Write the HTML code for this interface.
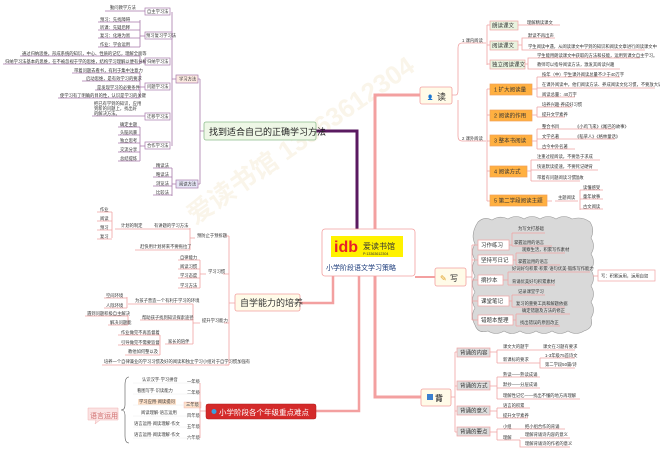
<!DOCTYPE html>
<html><head><meta charset="utf-8"><style>
html,body{margin:0;padding:0;background:#fff;width:660px;height:455px;overflow:hidden}
svg{display:block}
text{font-family:"Liberation Sans","Noto Sans CJK SC",sans-serif;fill:#333}
.s{font-size:4.3px}
.m{font-size:5.5px}
.p{stroke:#a77aab;stroke-width:0.8;fill:none}
.r{stroke:#f0a3a3;stroke-width:0.8;fill:none}
.bp{fill:#fff;stroke:#a77aab;stroke-width:0.7}
.br{fill:#fff;stroke:#f0a3a3;stroke-width:0.7}
.g{fill:#e9f3df;stroke:#f0a3a3;stroke-width:0.7}
.o{fill:#ffb040;stroke:#f3a05a;stroke-width:0.7}
.gr{fill:#ddd;stroke:#f0a3a3;stroke-width:0.7}
</style></head><body>
<svg width="660" height="455" viewBox="0 0 660 455" xmlns="http://www.w3.org/2000/svg">
<!-- watermark -->
<text x="195" y="225" font-size="26" transform="rotate(-35 195 225)" style="fill:#faf5ea;font-weight:bold">爱读书馆 13363612304</text>

<!-- thick trunks -->
<path d="M316 131 H357 V232" stroke="#5a1a60" stroke-width="3" fill="none"/>
<path d="M375 232 V95 H420" stroke="#f3a0a0" stroke-width="3" fill="none"/>
<path d="M375 255 V397 H421" stroke="#f3a0a0" stroke-width="3" fill="none"/>
<path d="M415 277 H435" stroke="#f3a0a0" stroke-width="2" fill="none"/>
<path d="M333 275 V303 H300" stroke="#f3a0a0" stroke-width="2.5" fill="none"/>
<path d="M359 275 V411 H316" stroke="#f3a0a0" stroke-width="2.5" fill="none"/>

<!-- center box -->
<rect x="322" y="229" width="93" height="47" rx="3" fill="#fff" stroke="#f3a0a0" stroke-width="0.8"/>
<rect x="331" y="236" width="72" height="21" fill="#fff200"/>
<text x="334" y="252" font-size="16" style="fill:#e8202a;font-weight:bold">idb</text>
<text x="363" y="249" font-size="8" style="fill:#333">爱读书馆</text>
<text x="363" y="255" font-size="3.6" style="fill:#333">P:13363612304</text>
<text x="326" y="270" font-size="7" style="fill:#1a3a7a">小学阶段语文学习策略</text>

<!-- ====== left top tree ====== -->
<rect x="204" y="122" width="112" height="18" rx="2" fill="#eef7e6" stroke="#8fbf8f" stroke-width="0.8"/>
<text x="209" y="135" font-size="9" style="fill:#222">找到适合自己的正确学习方法</text>
<path class="p" d="M204 131 H200 M200 79 V184 M200 79 H198 M200 184 H198"/>
<rect class="bp" x="176" y="75" width="22" height="8" style="fill:#fbe9e0"/><text class="s" x="179" y="80.5">学习方法</text>
<rect class="bp" x="176" y="180" width="22" height="8" style="fill:#e6e6f6"/><text class="s" x="179" y="185.5">阅读方法</text>
<path class="p" d="M176 79 H172 M172 12 V146"/>
<g>
<rect class="bp" x="145" y="8" width="25" height="7"/><text class="s" x="147" y="13">自主学习法</text>
<rect class="bp" x="145" y="32" width="27" height="7"/><text class="s" x="146" y="37">预习复习学习法</text>
<rect class="bp" x="145" y="58" width="25" height="7"/><text class="s" x="147" y="63">归纳学习法</text>
<rect class="bp" x="145" y="83" width="25" height="7"/><text class="s" x="147" y="88">问题学习法</text>
<rect class="bp" x="145" y="113" width="25" height="7"/><text class="s" x="147" y="118">迁移学习法</text>
<rect class="bp" x="145" y="142" width="25" height="7"/><text class="s" x="147" y="147">合作学习法</text>
</g>
<path class="p" d="M105 11 H145 M98 22 H140 M98 30 H140 M98 38 H140 M98 47 H140 M140 20 V47 M140 36 H145
M20 56 H140 M3 64 H140 M140 56 V64 M140 62 H145
M72 73 H140 M82 81 H140 M95 90 H140 M58 98 H140 M140 73 V98 M140 87 H145
M92 116 H145 M118 127 H140 M118 135 H140 M118 143 H140 M118 152 H140 M118 161 H140 M140 127 V161 M140 146 H145"/>
<text class="s" x="110" y="9">勤问教学方法</text>
<text class="s" x="100" y="21">预习：先找障碍</text>
<text class="s" x="100" y="29">听课：先疑后释</text>
<text class="s" x="100" y="37">复习：化难为易</text>
<text class="s" x="100" y="46">作业：学会运用</text>
<text class="s" x="22" y="55">通过归纳思维，形成系统的知识，中心、性质的记忆，理解全面等</text>
<text class="s" x="5" y="63">归纳学习法基本的思维，在不被忽视于学的思维，结构学习理解以便有分析</text>
<text class="s" x="74" y="72">带着问题去看书，有利于集中注意力</text>
<text class="s" x="86" y="80">启动思维，是有效学习的要求</text>
<text class="s" x="97" y="89">是发现学习的必要条件</text>
<text class="s" x="60" y="97">使学习有了明确的目的性，认识是学习的关键</text>
<text class="s" x="94" y="105">把已有学到的知识，应用</text>
<text class="s" x="94" y="110">到新的问题上，找出好</text>
<text class="s" x="94" y="115">的解决方法。</text>
<text class="s" x="120" y="126">确定主题</text>
<text class="s" x="120" y="134">头脑风暴</text>
<text class="s" x="120" y="142">独立思考</text>
<text class="s" x="120" y="151">交流分享</text>
<text class="s" x="120" y="160">总结提炼</text>
<path class="p" d="M176 184 H172 M172 168 V196 M153 168 H172 M153 177 H172 M153 186 H172 M153 195 H172"/>
<text class="s" x="156" y="167">精读法</text>
<text class="s" x="156" y="176">略读法</text>
<text class="s" x="156" y="185">浏览法</text>
<text class="s" x="156" y="194">比较法</text>

<!-- ====== 自学能力 ====== -->
<rect x="235" y="294" width="65" height="17" rx="2" fill="#fffbe8" stroke="#f3a0a0" stroke-width="0.8"/>
<text x="240" y="306" font-size="9" style="fill:#333">自学能力的培养</text>
<path class="r" d="M235 303 H229 M229 236 V365 M229 236 H225 M229 274 H223 M229 323 H224 M229 365 H225"/>
<text class="s" x="197" y="237">预防止于预拆题</text>
<path class="r" d="M195 238 H190 M190 228 V250 M115 229 H190 M135 250 H190"/>
<text class="s" x="121" y="227">计划的制定</text><text class="s" x="154" y="227">有讲题的学习方法</text>
<text class="s" x="140" y="248">赶快用计划将来不要拖拉了</text>
<path class="r" d="M112 212 V238 M97 212 H112 M97 221 H112 M97 230 H112 M97 239 H112"/>
<text class="s" x="100" y="211">作业</text><text class="s" x="100" y="220">阅读</text><text class="s" x="100" y="229">预习</text><text class="s" x="100" y="238">复习</text>
<text class="s" x="208" y="273">学习习惯</text>
<path class="r" d="M206 274 H200 M200 260 V288 M178 260 H200 M178 269 H200 M178 278 H200 M178 288 H200"/>
<text class="s" x="180" y="259">自律能力</text><text class="s" x="180" y="268">阅读习惯</text><text class="s" x="180" y="277">学习态度</text><text class="s" x="180" y="287">学习方法</text>
<text class="s" x="202" y="322">提升学习能力</text>
<path class="r" d="M200 323 H193 M193 304 V344 M128 304 H193 M140 320 H193 M165 344 H193
M127 297 V308 M104 298 H127 M104 308 H127
M128 315 V325 M85 316 H128 M108 325 H128
M160 335 V355 M118 335 H160 M118 345 H160 M125 355 H160 M102 365 H229"/>
<text class="s" x="135" y="302">为孩子营造一个有利于学习的环境</text>
<text class="s" x="106" y="297">空间环境</text><text class="s" x="106" y="307">人际环境</text>
<text class="s" x="142" y="319">帮助孩子找到知识探索途径</text>
<text class="s" x="87" y="315">遇到问题积极自主解决</text><text class="s" x="110" y="324">解决问题能</text>
<text class="s" x="168" y="343">家长的陪伴</text>
<text class="s" x="121" y="334">作业做完不再监督着</text><text class="s" x="121" y="344">引导做完不需要监督</text><text class="s" x="128" y="353">教他如何整以及</text>
<text class="s" x="104" y="363">培养一个自律兼业的学习习惯及好的阅读和独立学习小组对于自学习惯加强有</text>

<!-- ====== grades ====== -->
<path d="M129 377 Q125 377 125 385 V405 Q125 410 121 410 Q125 410 125 415 V436 Q125 443 129 443" stroke="#555" stroke-width="0.6" fill="none"/>
<path d="M88 408 H118 V420 H100 L95 424 L96 420 H88 Z" fill="#fbe3e3" stroke="#f0b0b0" stroke-width="0.5"/>
<text x="90" y="418" font-size="7" style="fill:#d07070">语言运用</text>
<g class="s">
<text class="s" x="142" y="381">认识汉字·学习拼音</text><text class="s" x="187" y="383">一年级</text>
<text class="s" x="137" y="392">看图写字·识读能力</text><text class="s" x="187" y="394">二年级</text>
<rect x="138" y="399" width="38" height="6" fill="#fde0c8"/><text class="s" x="139" y="403">学习应用·阅读提问</text>
<rect x="184" y="402" width="17" height="6" fill="#fde0c8" stroke="#f0b0b0" stroke-width="0.4"/><text class="s" x="186" y="406">三年级</text>
<text class="s" x="141" y="414">阅读理解·语言运用</text><text class="s" x="187" y="417">四年级</text>
<text class="s" x="134" y="425">语言运用·阅读理解·作文</text><text class="s" x="187" y="428">五年级</text>
<text class="s" x="134" y="436">语言运用·阅读理解·作文</text><text class="s" x="187" y="439">六年级</text>
</g>
<path d="M133 383 H200 M133 394 H200 M133 405 H200 M133 416 H200 M133 427 H200 M133 438 H200" stroke="#eee" stroke-width="0.5"/>
<path class="r" d="M200 383 V438 M200 411 H206"/>
<rect x="206" y="404" width="110" height="15" rx="2" fill="#d42a2a" stroke="#b01a1a" stroke-width="0.5"/>
<circle cx="214" cy="411.5" r="2.5" fill="#3aa0e0"/>
<text x="219" y="415" font-size="7.5" style="fill:#fff">小学阶段各个年级重点难点</text>

<!-- ====== 读 ====== -->
<rect x="420" y="87" width="32" height="17" rx="2" fill="#fffbe8" stroke="#f3a0a0" stroke-width="0.8"/>
<text x="427" y="99" font-size="5" style="fill:#3a70c0">👤</text>
<text x="437" y="100" font-size="9" style="fill:#333">读</text>
<path class="r" d="M452 95 H456 Q458 95 458 90 V48 Q458 43 462 43 H480 M458 100 V136 Q458 141 462 141 H480"/>
<text class="s" x="462" y="42">1 课内阅读</text><text class="s" x="462" y="140">2 课外阅读</text>
<path class="r" d="M480 43 H486 M487 25 V65 M487 25 H490 M487 45 H490 M487 64 H490"/>
<rect class="g" x="490" y="21" width="28" height="9"/><text class="m" x="492" y="27.5">朗读课文</text>
<rect class="g" x="490" y="41" width="28" height="9"/><text class="m" x="492" y="47.5">阅读课文</text>
<rect class="g" x="490" y="60" width="35" height="9"/><text class="m" x="492" y="66.5">独立阅读课文</text>
<path class="r" d="M518 25 H560 M518 45 H522 V38 H555 M522 45 V50 H645 M525 64 H528 V58 H640 M528 64 V69 H620"/>
<text class="s" x="527" y="24">理解精读课文</text>
<text class="s" x="528" y="37">默读不再出声</text>
<text class="s" x="528" y="48">学生阅读中遇，从阅读课文中学到的知识和阅读文章进行阅读课文中</text>
<text class="s" x="537" y="57">学生能用朗读课文中获取的方法和技能，运用到课文自主学习。</text>
<text class="s" x="537" y="66">教师可以指导阅读方法，激发其阅读兴趣</text>
<path class="r" d="M480 141 H486 M487 89 V201 M487 89 H490 M487 115 H490 M487 141 H490 M487 171 H490 M487 201 H490"/>
<rect class="o" x="490" y="84" width="42" height="11"/><text class="m" x="494" y="91.5">1 扩大阅读量</text>
<rect class="o" x="490" y="110" width="42" height="11"/><text class="m" x="494" y="117.5">2 阅读的作用</text>
<rect class="o" x="490" y="135" width="42" height="11"/><text class="m" x="494" y="142.5">3 整本书阅读</text>
<rect class="o" x="490" y="166" width="37" height="11"/><text class="m" x="494" y="173.5">4 阅读方式</text>
<rect class="o" x="490" y="195" width="57" height="11"/><text class="m" x="494" y="202.5">5 第二学段阅读主题</text>
<path class="r" d="M532 89 H537 M537 77 V97 M537 77 H620 M537 88 H655 M537 97 H575
M532 115 H537 M537 107 V117 M537 107 H572 M537 117 H565
M532 141 H537 M537 129 V149 M537 129 H615 M537 139 H615 M537 149 H575
M527 171 H531 M531 160 V181 M531 160 H600 M531 170 H598 M531 181 H580
M547 201 H552 M555 201 H578 M580 190 V210 M580 190 H603 M580 199 H603 M580 209 H603"/>
<text class="s" x="542" y="76">按年（中）学生课外阅读总量不少于40万字</text>
<text class="s" x="542" y="86">在课外阅读中，他们阅读方法、养成阅读文化习惯，不要放大语调、随意大声</text>
<text class="s" x="542" y="96">阅读总量：40万字</text>
<text class="s" x="542" y="106">培养兴趣·养成好习惯</text>
<text class="s" x="542" y="116">提升文学素养</text>
<text class="s" x="542" y="128">整合书目</text><text class="s" x="575" y="128">《小鸡飞来》《尾巴的故事》</text>
<text class="s" x="542" y="138">文学名著</text><text class="s" x="575" y="138">《稻草人》《格林童话》</text>
<text class="s" x="542" y="148">古今中外名著</text>
<text class="s" x="537" y="158">注重过程阅读，不要急于求成</text>
<text class="s" x="537" y="168">快速默读提速，不要死记硬背</text>
<text class="s" x="537" y="179">带着有问题阅读习惯</text><text class="s" x="575" y="179">温故</text>
<text class="s" x="558" y="199">主题阅读</text>
<text class="s" x="583" y="189">读懂感受</text><text class="s" x="583" y="198">童年故事</text><text class="s" x="583" y="208">古文阅读</text>

<!-- ====== 写 cloud ====== -->
<path d="M478 222 Q484 216 492 220 Q500 215 508 219 Q516 214 524 219 Q532 214 540 219 Q548 214 556 219 Q564 214 572 219 Q582 216 590 222 Q595 230 591 238 Q596 246 591 254 Q596 262 591 270 Q596 278 591 286 Q596 294 591 302 Q596 310 591 318 Q594 328 584 331 Q576 336 568 331 Q560 336 552 331 Q544 336 536 331 Q528 336 520 331 Q512 336 504 331 Q496 336 488 331 Q478 334 475 325 Q470 316 475 308 Q470 300 475 292 Q470 284 475 276 Q470 268 475 260 Q470 252 475 244 Q470 234 478 222 Z" fill="#d9d9d9" stroke="#999" stroke-width="0.6"/>
<rect x="435" y="268" width="31" height="18" rx="2" fill="#fffbe8" stroke="#f3a0a0" stroke-width="0.8"/>
<text x="440" y="281" font-size="8" style="fill:#e0a020">✎</text>
<text x="450" y="281" font-size="8" style="fill:#333">写</text>
<path class="r" d="M466 277 H472 M472 245 V320 M472 245 H478 M472 260 H478 M472 280 H478 M472 301 H478 M472 320 H478"/>
<rect class="br" x="478" y="240" width="31" height="10"/><text class="m" x="481" y="247">习作练习</text>
<rect class="br" x="478" y="255" width="35" height="10"/><text class="m" x="481" y="262">坚持写日记</text>
<rect class="br" x="478" y="275" width="25" height="10"/><text class="m" x="481" y="282">摘抄本</text>
<rect class="br" x="478" y="296" width="31" height="10"/><text class="m" x="481" y="303">课堂笔记</text>
<rect class="br" x="478" y="315" width="35" height="10"/><text class="m" x="481" y="322">错题本整理</text>
<path class="r" d="M509 245 H512 M512 233 V246 M512 233 H545 M512 246 H552 M513 260 H516 M516 253 V265 M516 253 H565 M516 265 H560
M503 280 H508 M508 272 V285 M508 272 H590 M508 285 H555 M509 301 H512 M512 295 V307 M512 295 H545 M512 307 H565
M513 320 H516 M516 314 V326 M516 314 H570 M516 326 H560"/>
<text class="s" x="518" y="230">为写文打基础</text>
<text class="s" x="514" y="244">掌握运用的语言</text>
<text class="s" x="522" y="251">观察生活，积累写作素材</text>
<text class="s" x="518" y="263">掌握运用的语言</text>
<text class="s" x="512" y="270">好词好句积累·积累·语句优美·锻炼写作能力</text>
<text class="s" x="512" y="283">背诵优美好句积累素材</text>
<text class="s" x="518" y="293">记录课堂学习</text>
<text class="s" x="516" y="305">复习的重要工具和解题依据</text>
<text class="s" x="522" y="312">确定错题及方法的修正</text>
<text class="s" x="520" y="324">找出错误的原因改正</text>
<path class="r" d="M593 276 H598"/>
<rect class="br" x="598" y="270" width="57" height="11"/><text class="s" x="601" y="277.5">写：积累运用，运用自如</text>

<!-- ====== 背 ====== -->
<rect x="421" y="389" width="30" height="17" rx="2" fill="#fffbe8" stroke="#f3a0a0" stroke-width="0.8"/>
<rect x="427" y="394" width="6" height="6" fill="#3a80d0"/>
<text x="435" y="401" font-size="8" style="fill:#333;font-weight:bold">背</text>
<path class="r" d="M451 397 H455 M455 352 V432 M455 352 H457 M455 386 H457 M455 411 H457 M455 432 H457"/>
<rect class="gr" x="457" y="348" width="33" height="9"/><text class="m" x="460" y="354.5">背诵的内容</text>
<rect class="gr" x="457" y="381" width="33" height="9"/><text class="m" x="460" y="387.5">背诵的方式</text>
<rect class="gr" x="457" y="406" width="33" height="9"/><text class="m" x="460" y="412.5">背诵的意义</text>
<rect class="gr" x="457" y="427" width="33" height="9"/><text class="m" x="460" y="433.5">背诵的要点</text>
<path class="r" d="M490 352 H497 M497 350 V363 M497 350 H535 M497 363 H540 M540 363 V358 M540 358 H575 M540 363 V368 H575 M535 350 H575
M490 386 H497 M497 377 V399 M497 377 H540 M497 388 H540 M497 399 H580
M490 411 H497 M497 408 V418 M497 408 H530 M497 418 H528
M490 432 H497 M497 429 V440 M497 429 H565 M497 440 H520 M520 438 H570 M520 440 V447 H570"/>
<text class="s" x="503" y="348">课文大的题字</text><text class="s" x="543" y="348">课文在习题有要求</text>
<text class="s" x="503" y="361">新课标的要求</text><text class="s" x="545" y="357">1-3年级75首诗文</text><text class="s" x="545" y="366">第二学段50篇/诗</text>
<text class="s" x="503" y="376">熟读——熟读成诵</text>
<text class="s" x="503" y="386">默抄——分层成诵</text>
<text class="s" x="503" y="397">理解性记忆——找出不懂的地方再理解</text>
<text class="s" x="503" y="407">语言的积累</text>
<text class="s" x="503" y="417">提升文学素养</text>
<text class="s" x="503" y="428">小组</text><text class="s" x="525" y="428">把小组合作的背诵</text>
<text class="s" x="503" y="439">理解</text><text class="s" x="525" y="436">理解背诵诗内容的意义</text><text class="s" x="525" y="445">理解背诵诗的作者的意义</text>
</svg>
</body></html>
